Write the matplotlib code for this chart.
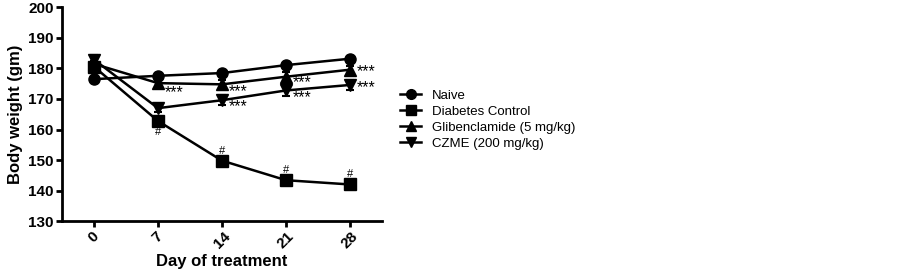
import numpy as np
import matplotlib
matplotlib.use("Agg")
import matplotlib.pyplot as plt
from matplotlib.lines import Line2D

plt.rcParams['font.family'] = ['Liberation Sans', 'DejaVu Sans']

days = ["0", "7", "14", "21", "28"]
naive = [176.5, 177.6, 178.5, 181.1, 183.2]
naive_err = [0.6, 0.8, 0.8, 0.8, 0.8]
diabetes = [180.6, 162.8, 149.8, 143.4, 142.0]
diabetes_err = [1.5, 1.0, 0.6, 0.6, 0.6]
glib = [181.5, 175.2, 174.8, 177.3, 179.6]
glib_err = [1.0, 1.0, 1.4, 1.4, 1.2]
czme = [182.9, 167.0, 169.6, 172.8, 174.6]
czme_err = [1.5, 1.4, 1.6, 1.7, 1.7]

glib_stars = ["", "***", "***", "***", "***"]
czme_stars = ["", "", "***", "***", "***"]
diab_hash = ["", "#", "#", "#", "#"]

x = np.arange(len(days))

fig = plt.figure(figsize=(9.02, 2.75), dpi=100)
ax = fig.add_axes([0.0687, 0.196, 0.3548, 0.777])

series = [
    (naive, naive_err, 'o', 'Naive', 8),
    (diabetes, diabetes_err, 's', 'Diabetes Control', 8.5),
    (glib, glib_err, '^', 'Glibenclamide (5 mg/kg)', 8),
    (czme, czme_err, 'v', 'CZME (200 mg/kg)', 8),
]
handles = []
for vals, err, mk, lab, ms in series:
    ax.errorbar(x, vals, yerr=err, color='black', marker=mk, markersize=ms,
                linewidth=1.8, elinewidth=1.5, capsize=3, capthick=1.5)
    handles.append(Line2D([], [], color='black', marker=mk, markersize=ms - 1,
                          linewidth=1.8, label=lab))

# significance marks: asterisks sit just right of / below the marker
glib_drop = [0, 2.1, 1.4, 0.95, -0.35]
czme_drop = [0, 0, 1.15, 1.4, 0.1]
for i in range(len(x)):
    if glib_stars[i]:
        ax.text(x[i] + 0.1, glib[i] - glib_drop[i] - 2.4, glib_stars[i],
                fontsize=11.5, ha='left', va='baseline')
    if czme_stars[i]:
        ax.text(x[i] + 0.1, czme[i] - czme_drop[i] - 2.4, czme_stars[i],
                fontsize=11.5, ha='left', va='baseline')
    if diab_hash[i]:
        dy = -3.7 if i == 1 else 3.3
        ax.text(x[i], diabetes[i] + dy, diab_hash[i], fontsize=8,
                ha='center', va='center')

ax.set_xlim(-0.5, 4.5)
ax.set_ylim(130, 200)
ax.set_yticks(np.arange(130, 201, 10))
ax.set_xticks(x)
ax.set_xticklabels(days, rotation=45, ha='center', fontweight='bold', fontsize=11)
for lbl in ax.get_yticklabels():
    lbl.set_fontweight('bold')
    lbl.set_fontsize(11)
ax.set_xlabel('Day of treatment', fontweight='bold', fontsize=12, labelpad=2)
ax.set_ylabel('Body weight (gm)', fontweight='bold', fontsize=12, labelpad=4)

for s in ['top', 'right']:
    ax.spines[s].set_visible(False)
for s in ['left', 'bottom']:
    ax.spines[s].set_linewidth(2)
ax.tick_params(width=2, length=4, pad=2)

ax.legend(handles=handles, loc='upper left', bbox_to_anchor=(1.02, 0.67),
          frameon=False, fontsize=9.5, handlelength=1.6, labelspacing=0.28,
          handletextpad=0.8)

fig.savefig('out.png', dpi=100)
